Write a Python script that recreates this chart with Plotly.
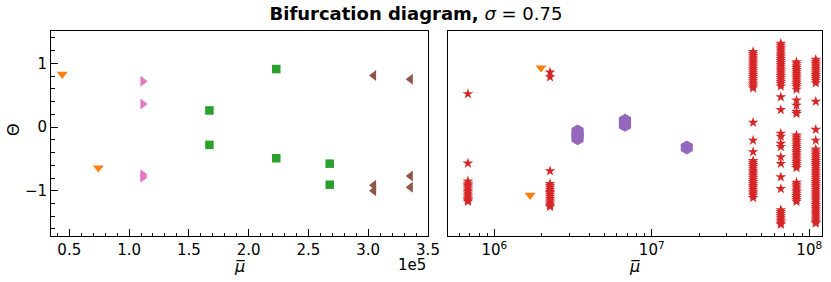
import plotly.graph_objects as go

# ---------------- data ----------------
# left panel (linear mu)
orange_l_x = [44100, 74300]
orange_l_y = [0.83, -0.64]
pink_x = [111500, 111500, 111500, 111500]
pink_y = [0.72, 0.36, -0.75, -0.79]
green_x = [167200, 167200, 223100, 223100, 267800, 267800]
green_y = [0.26, -0.28, 0.91, -0.49, -0.575, -0.905]
brown_x = [304600, 304600, 304600, 335300, 335300, 335300]
brown_y = [0.81, -0.915, -1.0, 0.75, -0.77, -0.945]

# right panel (log mu)
orange_r_x = [1.98e6, 1.69e6]
orange_r_y = [0.93, -1.07]
purple_x = [3.38e6, 3.38e6, 3.38e6, 6.76e6, 6.76e6, 6.76e6, 1.67e7]
purple_y = [-0.07, -0.12, -0.175, 0.10, 0.065, 0.035, -0.32]

star_cols_x = [6.8e5, 2.26e6, 4.4e7, 6.6e7, 8.3e7, 1.10e8]
star_col1_y = [0.52, -0.57, -0.85, -0.88, -0.91, -0.93, -0.96, -0.99, -1.01,
               -1.04, -1.07, -1.10, -1.13, -1.15, -1.17]
star_col2_y = [0.86, 0.785, -0.69, -0.89, -0.92, -0.95, -0.98, -1.01, -1.03,
               -1.06, -1.09, -1.12, -1.15, -1.18, -1.21, -1.23, -1.25]
star_col3_y = [1.18, 1.15, 1.12, 1.09, 1.06, 1.03, 1.00, 0.97, 0.94, 0.91,
               0.88, 0.85, 0.82, 0.79, 0.76, 0.73, 0.70, 0.67, 0.64, 0.61,
               0.07, -0.21, -0.39,
               -0.53, -0.56, -0.59, -0.62, -0.65, -0.68, -0.71, -0.74, -0.77,
               -0.80, -0.83, -0.86, -0.89, -0.92, -0.95, -0.98, -1.01, -1.04,
               -1.07, -1.11]
star_col4_y = [1.31, 1.28, 1.25, 1.22, 1.19, 1.16, 1.13, 1.10, 1.07, 1.04,
               1.01, 0.98, 0.95, 0.92, 0.89, 0.86, 0.83, 0.80, 0.77, 0.74,
               0.71, 0.68, 0.64,
               0.47, 0.27, -0.10, -0.15, -0.26, -0.31, -0.47, -0.575, -0.785,
               -0.97,
               -1.30, -1.33, -1.36, -1.39, -1.42, -1.45, -1.48, -1.51, -1.53]
star_col5_y = [1.02, 0.99, 0.96, 0.93, 0.90, 0.87, 0.84, 0.81, 0.78, 0.75,
               0.72, 0.69, 0.66, 0.63, 0.59,
               0.42, 0.34, 0.24, 0.21,
               -0.13, -0.16, -0.19, -0.22, -0.25, -0.28, -0.31, -0.34, -0.37,
               -0.40, -0.43, -0.46, -0.49, -0.52, -0.55, -0.58, -0.61, -0.64,
               -0.87, -0.90, -0.93, -0.96, -0.99, -1.02, -1.05, -1.08, -1.11,
               -1.14, -1.17]
star_col6_y = [1.06, 1.03, 1.00, 0.97, 0.94, 0.91, 0.88, 0.85, 0.82, 0.79,
               0.76, 0.73, 0.69,
               0.40, -0.04, -0.21,
               -0.35, -0.38, -0.41, -0.44, -0.47, -0.50, -0.53, -0.56, -0.59,
               -0.62, -0.65, -0.68, -0.71, -0.74, -0.77, -0.80, -0.83, -0.86,
               -0.89, -0.92, -0.95, -0.98, -1.01, -1.04, -1.07, -1.10, -1.13,
               -1.16, -1.19, -1.22, -1.25, -1.28, -1.31, -1.34, -1.37, -1.40,
               -1.43, -1.46, -1.49, -1.51]
star_cols_y = [star_col1_y, star_col2_y, star_col3_y, star_col4_y,
               star_col5_y, star_col6_y]

# ticks
lin_tickvals = [50000, 100000, 150000, 200000, 250000, 300000, 350000]
lin_ticktext = ["0.5", "1.0", "1.5", "2.0", "2.5", "3.0", "3.5"]
log_tickvals = [1e6, 1e7, 1e8]
log_ticktext = ["10<sup>6</sup>", "10<sup>7</sup>", "10<sup>8</sup>"]
y_tickvals = [-1, 0, 1]
y_ticktext = ["\u22121", "0", "1"]

# ---------------- styling ----------------
C_ORANGE = "#ff7f0e"
C_GREEN = "#2ca02c"
C_RED = "#d62728"
C_PURPLE = "#9467bd"
C_BROWN = "#8c564b"
C_PINK = "#e377c2"
FONT = "DejaVu Sans"

W, H = 831, 282
ML, MR, MT, MB = 51, 9, 31, 46
PW = W - ML - MR
PH = H - MT - MB

fig = go.Figure()

def mk(x, y, color, symbol, size, xa, ya):
    fig.add_trace(go.Scatter(
        x=x, y=y, mode="markers", xaxis=xa, yaxis=ya, showlegend=False,
        marker=dict(color=color, symbol=symbol, size=size, line=dict(width=0)),
        hoverinfo="skip"))

mk(orange_l_x, orange_l_y, C_ORANGE, "triangle-down", 9.5, "x", "y")
mk(pink_x, pink_y, C_PINK, "triangle-right", 9.5, "x", "y")
mk(green_x, green_y, C_GREEN, "square", 8.5, "x", "y")
mk(brown_x, brown_y, C_BROWN, "triangle-left", 9.5, "x", "y")

mk(orange_r_x, orange_r_y, C_ORANGE, "triangle-down", 9.5, "x2", "y2")
mk(purple_x, purple_y, C_PURPLE, "hexagon", 14, "x2", "y2")
for cx, cys in zip(star_cols_x, star_cols_y):
    mk([cx] * len(cys), cys, C_RED, "star", 8, "x2", "y2")

y_range = [-1.71, 1.507]
tickfont = dict(family=FONT, size=15, color="black")

x1_dom = [0, (428 - ML) / PW]
x2_dom = [(447.5 - ML) / PW, 1]

fig.update_layout(
    width=W, height=H,
    margin=dict(l=ML, r=MR, t=MT, b=MB, pad=0, autoexpand=False),
    paper_bgcolor="white", plot_bgcolor="white",
    font=dict(family=FONT, color="black"),
    title=dict(
        text="<b>Bifurcation diagram,</b> <i>\u03c3</i> = 0.75",
        x=416 / W, xref="container", xanchor="center",
        y=1 - 14 / H, yref="container", yanchor="middle",
        font=dict(family=FONT, size=18, color="black")),
    xaxis=dict(
        domain=x1_dom, range=[34700, 350000], showgrid=False, zeroline=False,
        showline=True, linecolor="black", linewidth=1, mirror=True,
        tickmode="array", tickvals=lin_tickvals, ticktext=lin_ticktext,
        ticks="inside", ticklen=7, tickwidth=1, tickcolor="black",
        tickfont=tickfont, anchor="y", automargin=False,
        minor=dict(ticks="inside", ticklen=3.5, tickwidth=1, tickcolor="black",
                   dtick=10000, tick0=0, showgrid=False)),
    yaxis=dict(
        domain=[0, 1], range=y_range, showgrid=False, zeroline=False,
        showline=True, linecolor="black", linewidth=1, mirror=True,
        tickmode="array", tickvals=y_tickvals, ticktext=y_ticktext,
        ticks="inside", ticklen=7, tickwidth=1, tickcolor="black",
        tickfont=tickfont, anchor="x", automargin=False,
        minor=dict(ticks="inside", ticklen=3.5, tickwidth=1, tickcolor="black",
                   dtick=0.2, tick0=0, showgrid=False)),
    xaxis2=dict(
        domain=x2_dom, type="log", range=[5.703, 8.081], showgrid=False,
        zeroline=False, showline=True, linecolor="black", linewidth=1,
        mirror=True, tickmode="array", tickvals=log_tickvals,
        ticktext=log_ticktext, ticks="inside", ticklen=7, tickwidth=1,
        tickcolor="black", tickfont=tickfont, anchor="y2", automargin=False,
        minor=dict(ticks="inside", ticklen=3.5, tickwidth=1, tickcolor="black",
                   dtick="D1", showgrid=False)),
    yaxis2=dict(
        domain=[0, 1], range=y_range, showgrid=False, zeroline=False,
        showline=True, linecolor="black", linewidth=1, mirror=True,
        showticklabels=False, ticks="", anchor="x2", automargin=False),
)

def px2x(px):
    return (px - ML) / PW

def py2y(py):
    return (H - MB - py) / PH

lab_font = dict(family=FONT, size=16, color="black")
fig.add_annotation(text="<i>\u03bc\u0305</i>", x=px2x(239.5), y=py2y(266),
                   xref="paper", yref="paper", showarrow=False,
                   xanchor="center", yanchor="middle", font=lab_font)
fig.add_annotation(text="<i>\u03bc\u0305</i>", x=px2x(634.7), y=py2y(266),
                   xref="paper", yref="paper", showarrow=False,
                   xanchor="center", yanchor="middle", font=lab_font)
fig.add_annotation(text="1e5", x=px2x(428), y=py2y(264.5),
                   xref="paper", yref="paper", showarrow=False,
                   xanchor="right", yanchor="middle",
                   font=dict(family=FONT, size=15, color="black"))
fig.add_annotation(text="\u0398", x=px2x(13), y=py2y(130),
                   xref="paper", yref="paper", showarrow=False, textangle=-90,
                   xanchor="center", yanchor="middle", font=lab_font)

fig.write_html(
    "out.html",
    config={"displayModeBar": False},
    post_script="document.body.style.margin='0';"
                "document.body.style.overflow='hidden';")
